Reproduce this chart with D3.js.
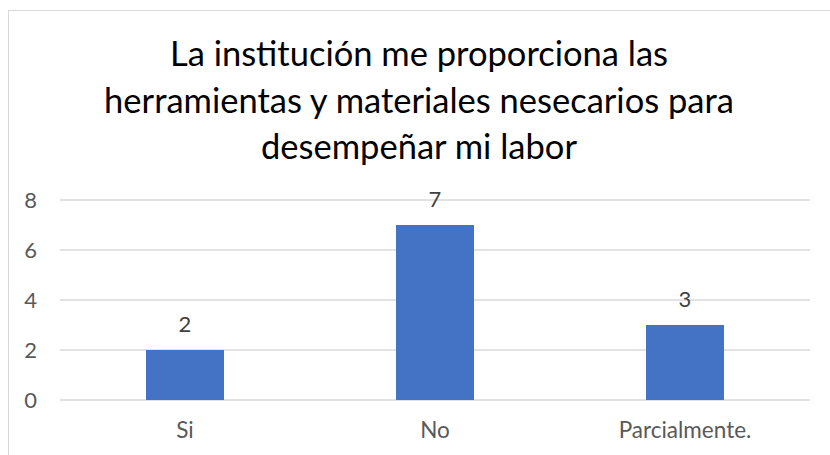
<!DOCTYPE html>
<html>
<head>
<meta charset="utf-8">
<script src="https://cdn.jsdelivr.net/npm/d3@7"></script>
<style>
  html, body { margin: 0; padding: 0; background: #fff; }
  svg { display: block; }
</style>
</head>
<body>
<svg id="chart" width="830" height="455"></svg>
<script>
const titleLines = ["La institución me proporciona las", "herramientas y materiales nesecarios para", "desempeñar mi labor"];
const categories = ["Si", "No", "Parcialmente."];
const values = [2, 7, 3];
const yTicks = [0, 2, 4, 6, 8];

const W = 830, H = 455;
const FONT = "Lato, 'Open Sans', sans-serif";
const svg = d3.select("#chart");

// outer frame
svg.append("rect")
  .attr("x", 8.5).attr("y", 10.5)
  .attr("width", 840).attr("height", 460)
  .attr("fill", "#fff").attr("stroke", "#d9d9d9").attr("stroke-width", 1);

const x = d3.scaleBand().domain(categories).range([60, 810])
  .paddingInner(0.688).paddingOuter(0.344);
const y = d3.scaleLinear().domain([0, 8]).range([400, 200]);

// title
const title = svg.append("text")
  .attr("text-anchor", "middle")
  .attr("font-family", FONT)
  .attr("font-size", 34.5)
  .attr("fill", "#000");
titleLines.forEach((t, i) => {
  title.append("tspan").attr("x", 419).attr("y", 66 + i * 46.5).text(t);
});

// gridlines
svg.append("g").selectAll("line").data(yTicks).join("line")
  .attr("x1", 60).attr("x2", 810)
  .attr("y1", d => y(d)).attr("y2", d => y(d))
  .attr("stroke", "#d9d9d9").attr("stroke-width", 1.5);

// y axis labels
const yAxis = svg.append("g").attr("transform", "translate(45,0)")
  .call(d3.axisLeft(y).tickValues(yTicks).tickSize(0).tickPadding(8));
yAxis.select(".domain").remove();
yAxis.selectAll("text")
  .attr("font-family", FONT).attr("font-size", 22).attr("fill", "#595959");

// bars
svg.append("g").selectAll("rect").data(values).join("rect")
  .attr("x", (d, i) => x(categories[i]))
  .attr("width", x.bandwidth())
  .attr("y", d => y(d))
  .attr("height", d => y(0) - y(d))
  .attr("fill", "#4472c4");

// data labels
svg.append("g").selectAll("text").data(values).join("text")
  .attr("x", (d, i) => x(categories[i]) + x.bandwidth() / 2)
  .attr("y", d => y(d) - 18)
  .attr("text-anchor", "middle")
  .attr("font-family", FONT).attr("font-size", 22).attr("fill", "#404040")
  .text(d => d);

// x axis labels
const xAxis = svg.append("g").attr("transform", "translate(0,400)")
  .call(d3.axisBottom(x).tickSize(0).tickPadding(22));
xAxis.select(".domain").remove();
xAxis.selectAll("text")
  .attr("font-family", FONT).attr("font-size", 22.5).attr("fill", "#595959");
</script>
</body>
</html>
